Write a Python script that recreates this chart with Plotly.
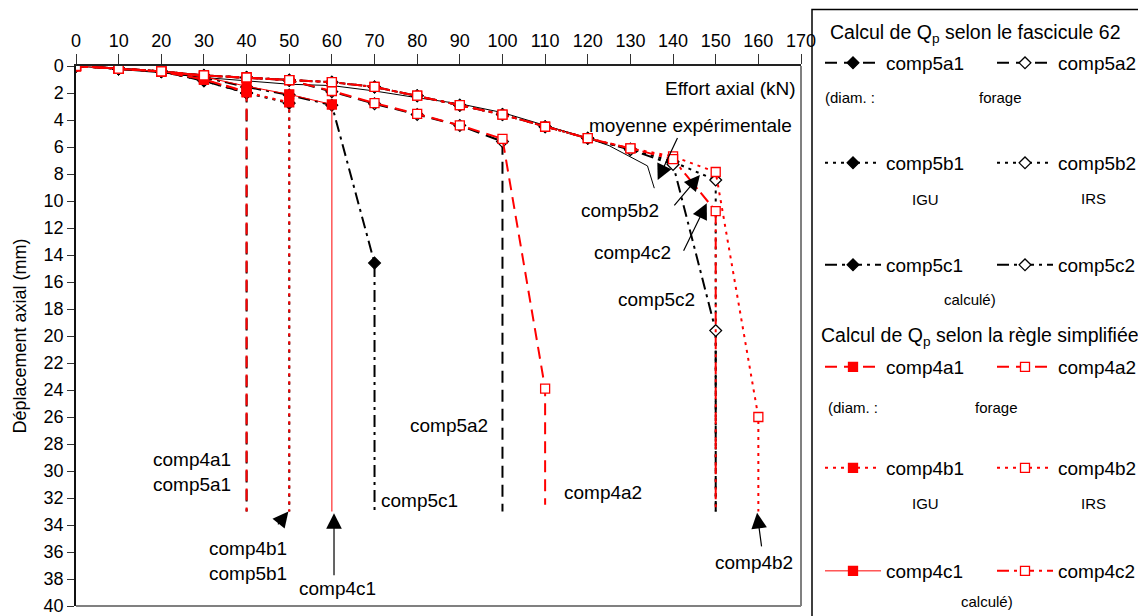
import plotly.graph_objects as go

# ---------------- data ----------------
load_exp = [0, 10, 20, 30, 40, 50, 60, 70, 80, 90, 100, 110, 120, 125, 134, 135.6]
disp_exp = [0, 0.25, 0.5, 0.85, 1.1, 1.35, 1.45, 1.85, 2.35, 2.8, 3.45, 4.4, 5.35, 5.9, 7.4, 9.05]

load_a1 = [0, 10, 20, 30, 40, 40]
disp_5a1 = [0, 0.2, 0.4, 1.1, 2.0, 33]
disp_4a1 = [0, 0.2, 0.4, 1.0, 1.9, 33]

load_b1 = [0, 10, 20, 30, 40, 50, 50]
disp_5b1 = [0, 0.2, 0.4, 1.1, 2.0, 2.75, 33]
disp_4b1 = [0, 0.2, 0.4, 1.0, 1.95, 2.7, 33]

load_5c1 = [0, 10, 20, 30, 40, 50, 60, 70, 70]
disp_5c1 = [0, 0.2, 0.4, 0.85, 1.55, 2.15, 2.9, 14.6, 33]
load_4c1 = [0, 10, 20, 30, 40, 50, 60, 60]
disp_4c1 = [0, 0.2, 0.4, 0.8, 1.5, 2.1, 2.85, 33]

load_5a2 = [0, 10, 20, 30, 40, 50, 60, 70, 80, 90, 100, 100]
disp_5a2 = [0, 0.2, 0.4, 0.7, 0.85, 1.05, 1.9, 2.8, 3.6, 4.4, 5.6, 33]
load_4a2 = [0, 10, 20, 30, 40, 50, 60, 70, 80, 90, 100, 110, 110]
disp_4a2 = [0, 0.2, 0.4, 0.7, 0.85, 1.05, 1.85, 2.75, 3.55, 4.4, 5.4, 23.9, 32.5]

load_4b2 = [0, 10, 20, 30, 40, 50, 60, 70, 80, 90, 100, 110, 120, 130, 140, 150, 160, 160]
disp_4b2 = [0, 0.2, 0.4, 0.7, 0.85, 1.05, 1.2, 1.55, 2.2, 2.9, 3.6, 4.5, 5.35, 6.1, 6.7, 7.85, 26.0, 33]
load_c2 = [0, 10, 20, 30, 40, 50, 60, 70, 80, 90, 100, 110, 120, 130, 140, 150, 150]
disp_5b2 = [0, 0.2, 0.4, 0.7, 0.85, 1.05, 1.2, 1.55, 2.2, 2.9, 3.6, 4.5, 5.35, 6.15, 7.1, 8.45, 33]
disp_4c2 = [0, 0.2, 0.4, 0.7, 0.85, 1.05, 1.2, 1.55, 2.2, 2.9, 3.6, 4.5, 5.35, 6.1, 6.9, 10.75, 33]
disp_5c2 = [0, 0.2, 0.4, 0.7, 0.85, 1.05, 1.2, 1.55, 2.2, 2.9, 3.6, 4.5, 5.35, 6.2, 7.3, 19.6, 33]

x_ticks = list(range(0, 171, 10))
y_ticks = list(range(0, 41, 2))

FONT = "Liberation Sans, Arial, sans-serif"
RED = "#FF0000"
BLK = "#000000"
DASH = "12px,7px"
DOT = "3px,5px"
DASHDOT = "12px,5px,3px,5px"

fig = go.Figure()

fig.add_trace(go.Scatter(x=load_exp, y=disp_exp, mode="lines", line=dict(color=BLK, width=1),
                         name="moyenne expérimentale", showlegend=False))


def add_series(name, xs, ys, color, dash, symbol, filled, legend, width=2):
    n = len(xs)
    transparent = "rgba(0,0,0,0)"
    if filled:
        fill_cols = [color] * (n - 1) + [transparent]
    else:
        fill_cols = ["white"] * (n - 1) + [transparent]
    line_cols = [color] * (n - 1) + [transparent]
    fig.add_trace(go.Scatter(
        x=xs, y=ys, mode="lines+markers", name=name, legend=legend,
        line=dict(color=color, width=width, dash=dash),
        marker=dict(symbol=symbol, size=9, color=fill_cols,
                    line=dict(color=line_cols, width=1.3)),
    ))


# black: fascicule 62
add_series("comp5a1", load_a1, disp_5a1, BLK, DASH, "diamond", True, "legend")
add_series("comp5a2", load_5a2, disp_5a2, BLK, DASH, "diamond", False, "legend")
add_series("comp5b1", load_b1, disp_5b1, BLK, DOT, "diamond", True, "legend2")
add_series("comp5b2", load_c2, disp_5b2, BLK, DOT, "diamond", False, "legend2")
add_series("comp5c1", load_5c1, disp_5c1, BLK, DASHDOT, "diamond", True, "legend3")
add_series("comp5c2", load_c2, disp_5c2, BLK, DASHDOT, "diamond", False, "legend3")
# red: règle simplifiée
add_series("comp4a1", load_a1, disp_4a1, RED, DASH, "square", True, "legend4")
add_series("comp4a2", load_4a2, disp_4a2, RED, DASH, "square", False, "legend4")
add_series("comp4b1", load_b1, disp_4b1, RED, DOT, "square", True, "legend5")
add_series("comp4b2", load_4b2, disp_4b2, RED, DOT, "square", False, "legend5")
add_series("comp4c1", load_4c1, disp_4c1, RED, None, "square", True, "legend6", width=1)
add_series("comp4c2", load_c2, disp_4c2, RED, DASHDOT, "square", False, "legend6")

# ---------------- layout ----------------
OFF = 8                      # page body margin of the browser
W, H = 1146 - OFF, 616 - OFF
L, T = 76 - OFF, 66 - OFF
pw, ph = 725, 540
R, B = W - L - pw, H - T - ph


def px(xs):
    """screen x (px) -> paper x"""
    return (xs - OFF - L) / pw


def py(ys):
    """screen y (px) -> paper y"""
    return (T + ph - (ys - OFF)) / ph


def leg(row_y):
    return dict(orientation="h", x=px(820), y=py(row_y), xanchor="left", yanchor="middle",
                entrywidth=101, entrywidthmode="pixels", bgcolor="rgba(0,0,0,0)",
                borderwidth=0, font=dict(family=FONT, size=19, color="black"),
                itemwidth=56, traceorder="normal")


fig.update_layout(
    width=W, height=H, margin=dict(l=L, r=R, t=T, b=B, autoexpand=False),
    paper_bgcolor="white", plot_bgcolor="white",
    font=dict(family=FONT, size=18, color="black"),
    xaxis=dict(side="top", range=[0, 170], tickvals=x_ticks, ticks="outside", ticklen=10,
               tickcolor="#333", showline=True, linecolor="#222", linewidth=1.5,
               showgrid=False, zeroline=False, tickfont=dict(size=18), automargin=False,
               ticklabeloverflow="allow"),
    yaxis=dict(range=[40, 0], tickvals=y_ticks, ticks="outside", ticklen=7, tickcolor="#333",
               showline=True, linecolor="#111", linewidth=1.5, showgrid=False, zeroline=False,
               tickfont=dict(size=18), automargin=False, ticklabeloverflow="allow",
               title=dict(text="Déplacement axial (mm)", font=dict(size=18), standoff=12)),
    legend=leg(63), legend2=leg(163), legend3=leg(265),
    legend4=leg(367), legend5=leg(468), legend6=leg(571),
    showlegend=True,
)

shapes = [
    dict(type="line", xref="paper", yref="paper", x0=1, x1=1, y0=0, y1=1,
         line=dict(color="#808080", width=2)),
    dict(type="line", xref="paper", yref="paper", x0=0, x1=1, y0=0, y1=0,
         line=dict(color="#808080", width=2)),
    dict(type="rect", xref="paper", yref="paper", x0=px(812), x1=px(1160), y0=py(630), y1=py(9.5),
         line=dict(color="black", width=1.5)),
]
fig.update_layout(shapes=shapes)

ann = []


def txt(x, y, text, size=19, xanchor="center", xref="x", yref="y"):
    ann.append(dict(x=x, y=y, xref=xref, yref=yref, text=text, showarrow=False,
                    xanchor=xanchor, yanchor="middle", font=dict(family=FONT, size=size, color="black")))


def arrow(x, y, ax, ay):
    ann.append(dict(x=x, y=y, ax=ax, ay=ay, xref="x", yref="y", axref="x", ayref="y", text="",
                    showarrow=True, arrowhead=2, arrowsize=2.6, arrowwidth=1.2, arrowcolor="black",
                    standoff=0, startstandoff=0))


# in-plot labels
txt(169.3, 1.63, "Effort axial (kN)", xanchor="right")
txt(144.0, 4.37, "moyenne expérimentale")
arrow(136.4, 8.44, 141.2, 5.23)
txt(127.5, 10.67, "comp5b2")
arrow(146.3, 8.07, 140.0, 10.44)
txt(130.4, 13.85, "comp4c2")
arrow(147.9, 10.17, 142.3, 13.8)
txt(136.2, 17.33, "comp5c2")
txt(87.5, 26.6, "comp5a2")
txt(27.2, 30.1, "comp4a1<br>comp5a1")
txt(80.5, 32.15, "comp5c1")
txt(123.6, 31.56, "comp4a2")
txt(40.3, 36.7, "comp4b1<br>comp5b1")
arrow(49.8, 33.0, 47.06, 34.07)
txt(61.4, 38.67, "comp4c1")
arrow(60.5, 33.13, 60.5, 37.83)
txt(159.0, 36.8, "comp4b2")
arrow(159.7, 33.1, 160.8, 35.7)

# legend texts
txt(px(975), py(33), "Calcul de Q<sub>p</sub> selon le fascicule 62", size=19.5, xref="paper", yref="paper")
txt(px(980), py(336), "Calcul de Q<sub>p</sub> selon la règle simplifiée", size=19.5, xref="paper", yref="paper")
for (xx, yy, tt) in [(850, 97, "(diam. :"), (1000, 97, "forage"), (925, 199, "IGU"), (1093, 198, "IRS"),
                     (970, 299, "calculé)"), (853, 407, "(diam. :"), (997, 407, "forage"),
                     (925, 503, "IGU"), (1093, 503, "IRS"), (987, 601, "calculé)")]:
    txt(px(xx), py(yy), tt, size=15, xref="paper", yref="paper")

fig.update_layout(annotations=ann)

fig.write_html("out.html")
